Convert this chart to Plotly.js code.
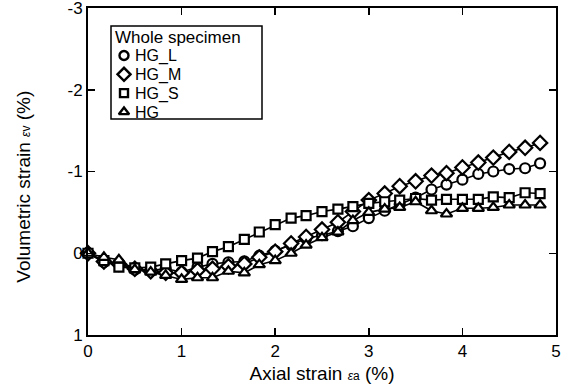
<!DOCTYPE html>
<html>
<head>
<meta charset="utf-8">
<script src="https://cdn.plot.ly/plotly-3.0.1.min.js"></script>
<style>html,body{margin:0;padding:0;background:#fff;}#chart{width:567px;height:391px;}</style>
</head>
<body>
<div id="chart"></div>
<script>
// ---- data ----
var axialStrain = [0, 0.17, 0.33, 0.5, 0.67, 0.83, 1.0, 1.17, 1.33, 1.5, 1.67, 1.83, 2.0, 2.17, 2.33, 2.5, 2.67, 2.83, 3.0, 3.17, 3.33, 3.5, 3.67, 3.83, 4.0, 4.17, 4.33, 4.5, 4.67, 4.83];
var hgL = [0, 0.11, 0.12, 0.2, 0.21, 0.19, 0.23, 0.17, 0.13, 0.11, 0.1, 0.03, -0.03, -0.1, -0.18, -0.22, -0.27, -0.33, -0.43, -0.52, -0.6, -0.68, -0.78, -0.84, -0.9, -0.97, -1.0, -1.03, -1.04, -1.1];
var hgM = [0, 0.1, 0.13, 0.19, 0.22, 0.24, 0.24, 0.21, 0.19, 0.16, 0.13, 0.05, -0.02, -0.12, -0.2, -0.29, -0.38, -0.51, -0.65, -0.73, -0.82, -0.88, -0.95, -0.98, -1.05, -1.11, -1.17, -1.24, -1.29, -1.35];
var hgS = [0, 0.09, 0.17, 0.18, 0.17, 0.13, 0.09, 0.06, -0.02, -0.08, -0.17, -0.26, -0.35, -0.43, -0.46, -0.51, -0.54, -0.57, -0.61, -0.63, -0.65, -0.67, -0.65, -0.66, -0.66, -0.66, -0.69, -0.68, -0.74, -0.73];
var hg = [0, 0.05, 0.08, 0.2, 0.23, 0.27, 0.32, 0.3, 0.3, 0.22, 0.24, 0.14, 0.09, 0, -0.1, -0.19, -0.26, -0.4, -0.5, -0.54, -0.56, -0.63, -0.52, -0.48, -0.55, -0.55, -0.56, -0.59, -0.59, -0.59];
var seriesNames = ["HG_L", "HG_M", "HG_S", "HG"];
var legendTitle = "Whole specimen";
var xTicks = [0, 1, 2, 3, 4, 5];
var yTicks = [-3, -2, -1, 0, 1];

// ---- styles ----
var seriesData = [hgL, hgM, hgS, hg];
var symbols = ["circle", "diamond", "square", "triangle-up"];
var sizes = [10, 11, 9, 10];
var legendSizes = [9, 10, 8, 9];
var font = "Arial, 'Liberation Sans', sans-serif";

// plot-area pixel frame (used by the overlay axes for the legend block)
var plotLeft = 88, plotRight = 556, plotTop = 8, plotBottom = 335;
var leg = {left: 111, right: 262, top: 26, bottom: 119, markerX: 124, textX: 133, titleX: 113, titleY: 37, rowY0: 55.5, rowStep: 18.8};

var traces = [];
for (var k = 0; k < seriesData.length; k++) {
  traces.push({
    x: axialStrain, y: seriesData[k], type: "scatter", mode: "lines+markers",
    name: seriesNames[k], showlegend: false, cliponaxis: false,
    line: {color: "#000", width: 1.6},
    marker: {symbol: symbols[k], size: sizes[k], color: "#fff", line: {color: "#000", width: 2.2}}
  });
}

// legend block drawn on an overlay pixel frame
var annotations = [{
  xref: "x2", yref: "y2", x: leg.titleX, y: leg.titleY, xanchor: "left", yanchor: "middle",
  text: legendTitle, showarrow: false, font: {family: font, size: 17, color: "#000"}
}];
for (var k = 0; k < seriesNames.length; k++) {
  var ry = leg.rowY0 + k * leg.rowStep;
  traces.push({
    x: [leg.markerX], y: [ry], xaxis: "x2", yaxis: "y2", type: "scatter", mode: "markers",
    showlegend: false, hoverinfo: "skip",
    marker: {symbol: symbols[k], size: legendSizes[k], color: "#fff", line: {color: "#000", width: 2.4}}
  });
  annotations.push({
    xref: "x2", yref: "y2", x: leg.textX, y: ry + 0.5, xanchor: "left", yanchor: "middle",
    text: seriesNames[k], showarrow: false, font: {family: font, size: 16, color: "#000"}
  });
}
annotations.push({
  text: "Volumetric strain <i><span style=\"font-size:12px\">ε</span></i><span style=\"font-size:12px\">v</span> (%)",
  xref: "paper", yref: "paper", x: -0.138, y: 0.455, xanchor: "center", yanchor: "middle",
  textangle: -90, showarrow: false, font: {family: font, size: 19, color: "#000"}
});

var layout = {
  width: 567, height: 391,
  margin: {l: plotLeft, r: 567 - plotRight, t: plotTop, b: 391 - plotBottom},
  paper_bgcolor: "#fff", plot_bgcolor: "#fff",
  font: {family: font, color: "#000", size: 17},
  showlegend: false,
  xaxis: {
    range: [0, 5], tickvals: xTicks, ticktext: xTicks.map(String),
    ticks: "inside", ticklen: 7, tickwidth: 1.5, tickcolor: "#000",
    showline: true, linewidth: 2, linecolor: "#000", mirror: "ticks",
    showgrid: false, zeroline: false, ticklabeloverflow: "allow",
    tickfont: {family: font, size: 17},
    title: {text: "Axial strain <i><span style=\"font-size:12px\">ε</span></i><span style=\"font-size:12px\">a</span> (%)", font: {family: font, size: 19}, standoff: 6}
  },
  yaxis: {
    range: [1, -3], tickvals: yTicks, ticktext: yTicks.map(String),
    ticks: "inside", ticklen: 7, tickwidth: 1.5, tickcolor: "#000",
    showline: true, linewidth: 2, linecolor: "#000", mirror: "ticks",
    showgrid: false, zeroline: false, ticklabeloverflow: "allow",
    tickfont: {family: font, size: 17}
  },
  xaxis2: {overlaying: "x", anchor: "y2", range: [plotLeft, plotRight], visible: false, fixedrange: true},
  yaxis2: {overlaying: "y", anchor: "x2", range: [plotBottom, plotTop], visible: false, fixedrange: true},
  shapes: [{
    type: "rect", xref: "x2", yref: "y2", x0: leg.left, x1: leg.right, y0: leg.top, y1: leg.bottom,
    line: {color: "#000", width: 1.5}, fillcolor: "rgba(0,0,0,0)", layer: "above"
  }],
  annotations: annotations
};
Plotly.newPlot("chart", traces, layout, {displayModeBar: false, staticPlot: true});
</script>
</body>
</html>
